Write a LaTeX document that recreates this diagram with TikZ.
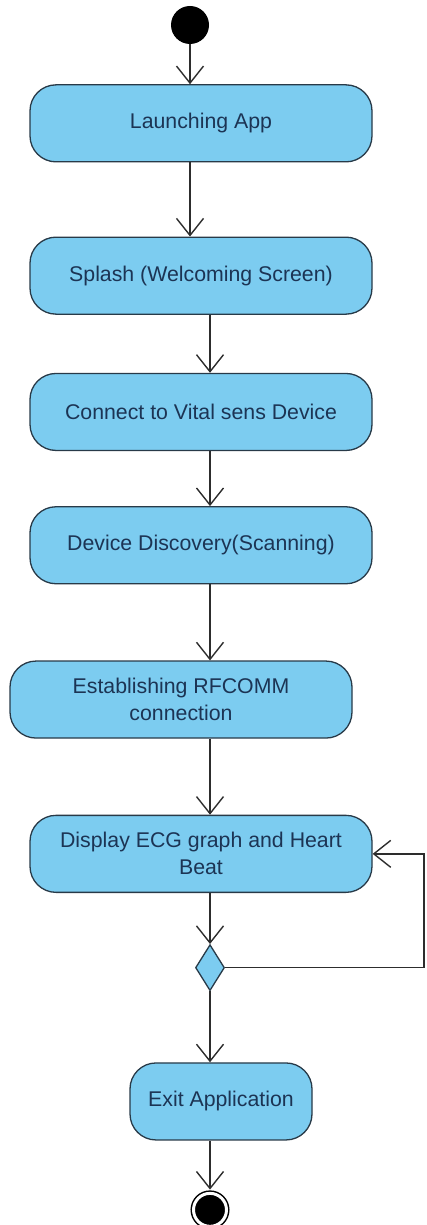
\documentclass[tikz,border=0pt]{standalone}
\usepackage{fontspec}
\setmainfont{Liberation Sans}
\usepackage{tikz}
\usetikzlibrary{shapes.geometric, arrows.meta, positioning}
\definecolor{actblue}{RGB}{124,204,240}
\definecolor{actborder}{RGB}{40,58,72}
\definecolor{acttext}{RGB}{28,52,84}
\definecolor{flowgray}{RGB}{45,45,45}
\tikzstyle{initial} = [circle,
minimum size=38pt,
inner sep=0pt,
fill=black]
\tikzstyle{final} = [circle,
minimum size=33pt,
inner sep=0pt,
fill=black,
draw=black,
line width=1.5pt,
double=white,
double distance=3pt]
\tikzstyle{activity} = [rectangle,
rounded corners=26pt,
minimum width=342pt,
minimum height=77pt,
align=center,
draw=actborder,
line width=1.3pt,
fill=actblue,
text=acttext,
font=\fontsize{21.3}{27}\selectfont]
\tikzstyle{decision} = [diamond,
minimum width=29pt,
minimum height=46pt,
inner sep=0pt,
draw=actborder,
line width=1.3pt,
fill=actblue]
\tikzstyle{flow} = [draw=flowgray,
line width=1.4pt,
-{Straight Barb[length=17pt, width=27pt]}]

\begin{document}
\begin{tikzpicture}
\useasboundingbox (0pt,0pt) rectangle (427pt,-1225pt);
\node (start) [initial] at (190pt,-25pt) {};
\node (launch) [activity, below=40pt of start, xshift=11pt] {Launching App};
\node (splash) [activity, below=74pt of launch] {Splash (Welcoming Screen)};
\node (connect) [activity, below=58pt of splash] {Connect to Vital sens Device};
\node (scan) [activity, below=55pt of connect] {Device Discovery(Scanning)};
\node (rfcomm) [activity, below=76pt of scan, xshift=-20pt] {Establishing RFCOMM\\connection};
\node (ecg) [activity, below=76pt of rfcomm, xshift=20pt] {Display ECG graph and Heart\\Beat};
\node (dec) [decision, below=51pt of ecg, xshift=9pt] {};
\node (exit) [activity, below=71pt of dec, xshift=11pt, minimum width=182pt] {Exit Application};
\node (end) [final, below=52pt of exit, xshift=-11pt] {};
\coordinate (back) at (424pt,0pt);

\draw [flow] (start) -- (start |- launch.north);
\draw [flow] (launch.south -| start) -- (splash.north -| start);
\draw [flow] (splash.south -| dec) -- (connect.north -| dec);
\draw [flow] (connect.south -| dec) -- (scan.north -| dec);
\draw [flow] (scan.south -| dec) -- (rfcomm.north -| dec);
\draw [flow] (rfcomm.south -| dec) -- (ecg.north -| dec);
\draw [flow] (ecg.south -| dec) -- (dec.north);
% loop back while the monitor keeps running
\draw [flow] (dec.east) -- (dec.east -| back) |- (ecg.east);
\draw [flow] (dec.south) -- (exit.north -| dec);
\draw [flow, shorten >=3pt] (exit.south -| end) -- (end.north);
\end{tikzpicture}
\end{document}
